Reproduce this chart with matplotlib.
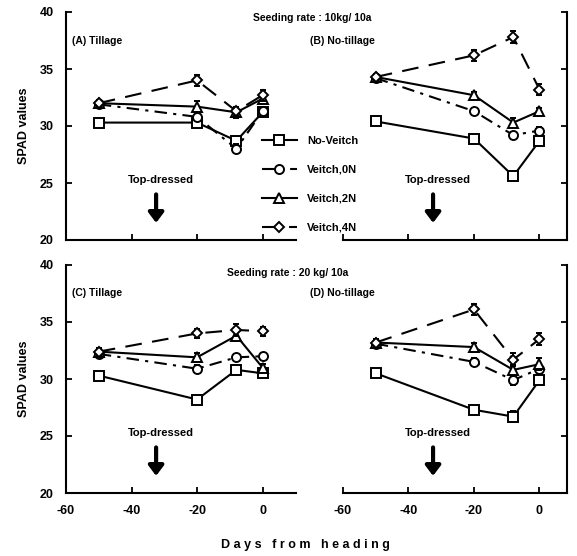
import matplotlib
matplotlib.use('Agg')
import matplotlib.pyplot as plt
from matplotlib.lines import Line2D

plt.rcParams['font.family'] = ['Liberation Sans', 'DejaVu Sans']
plt.rcParams['font.weight'] = 'bold'
plt.rcParams['axes.unicode_minus'] = False

days = [-50, -20, -8, 0]
series_names = ['No-Veitch', 'Veitch,0N', 'Veitch,2N', 'Veitch,4N']

# (A) Tillage, 10 kg/10a
a_noveitch = [30.3, 30.3, 28.7, 31.2]
a_veitch0n = [31.9, 30.8, 28.0, 31.3]
a_veitch2n = [32.0, 31.7, 31.2, 32.4]
a_veitch4n = [32.0, 34.0, 31.3, 32.7]
# (B) No-tillage, 10 kg/10a
b_noveitch = [30.4, 28.9, 25.6, 28.7]
b_veitch0n = [34.2, 31.3, 29.2, 29.6]
b_veitch2n = [34.3, 32.7, 30.3, 31.3]
b_veitch4n = [34.3, 36.2, 37.8, 33.2]
# (C) Tillage, 20 kg/10a
c_noveitch = [30.3, 28.2, 30.8, 30.5]
c_veitch0n = [32.2, 30.9, 31.9, 32.0]
c_veitch2n = [32.4, 31.9, 33.8, 31.0]
c_veitch4n = [32.4, 34.0, 34.3, 34.2]
# (D) No-tillage, 20 kg/10a
d_noveitch = [30.5, 27.3, 26.7, 29.9]
d_veitch0n = [33.1, 31.5, 29.9, 30.9]
d_veitch2n = [33.2, 32.8, 30.8, 31.3]
d_veitch4n = [33.2, 36.1, 31.7, 33.5]

# error bars (SE), per series in order of series_names
err_a = [[0.2, 0.2, 0.3, 0.2], [0.2, 0.2, 0.4, 0.3], [0.3, 0.5, 0.5, 0.4], [0.3, 0.5, 0.4, 0.5]]
err_b = [[0.2, 0.2, 0.3, 0.4], [0.2, 0.2, 0.3, 0.3], [0.3, 0.3, 0.4, 0.3], [0.3, 0.5, 0.5, 0.5]]
err_c = [[0.2, 0.3, 0.3, 0.2], [0.2, 0.3, 0.3, 0.3], [0.3, 0.4, 0.5, 0.3], [0.3, 0.4, 0.5, 0.4]]
err_d = [[0.2, 0.2, 0.5, 0.3], [0.2, 0.3, 0.4, 0.3], [0.3, 0.4, 0.4, 0.5], [0.3, 0.5, 0.6, 0.5]]

panel_labels = ['(A) Tillage', '(B) No-tillage', '(C) Tillage', '(D) No-tillage']
titles = ['Seeding rate : 10kg/ 10a', 'Seeding rate : 20 kg/ 10a']

markers = ['s', 'o', '^', 'D']
msizes = [6.5, 6.5, 6.5, 5.5]
styles = ['-', (0, (6, 3, 1.5, 3)), '-', (0, (8, 5))]

W, H = 577, 556
fig = plt.figure(figsize=(W / 100, H / 100), dpi=100)

def px_axes(x0, y_top, x1, y_bot):
    return fig.add_axes([x0 / W, 1 - y_bot / H, (x1 - x0) / W, (y_bot - y_top) / H])

axA = px_axes(66, 12, 296, 240)
axB = px_axes(343, 12, 567, 240)
axC = px_axes(66, 265, 296, 493)
axD = px_axes(343, 265, 567, 493)

panels = [
    (axA, [a_noveitch, a_veitch0n, a_veitch2n, a_veitch4n], err_a, True, False),
    (axB, [b_noveitch, b_veitch0n, b_veitch2n, b_veitch4n], err_b, False, False),
    (axC, [c_noveitch, c_veitch0n, c_veitch2n, c_veitch4n], err_c, True, True),
    (axD, [d_noveitch, d_veitch0n, d_veitch2n, d_veitch4n], err_d, False, True),
]

for i, (ax, data, errs, is_left, is_bottom) in enumerate(panels):
    for j, (vals, e) in enumerate(zip(data, errs)):
        ax.errorbar(days, vals, yerr=e, color='black', linestyle=styles[j], lw=1.5,
                    marker=markers[j], ms=msizes[j], mfc='white', mec='black', mew=1.4,
                    capsize=2.5, elinewidth=1.3, capthick=1.3, zorder=3 + j)
    ax.set_ylim(20, 40)
    ax.set_xlim(-60, 10.2 if is_left else 8.4)
    ax.set_yticks([20, 25, 30, 35, 40])
    ax.set_xticks([-60, -40, -20, 0])
    ax.spines['top'].set_visible(False)
    for s in ax.spines.values():
        s.set_linewidth(1.5)
    if is_left:
        ax.spines['right'].set_visible(False)
        ax.set_ylabel('SPAD values', fontsize=9, fontweight='bold', labelpad=7)
    else:
        ax.spines['left'].set_visible(False)
        ax.yaxis.tick_right()
        ax.tick_params(axis='y', labelright=False)
    ax.tick_params(direction='in', length=4, width=1.3, labelsize=9, pad=9)
    for t in ax.get_yticklabels() + ax.get_xticklabels():
        t.set_fontweight('bold')
    if not is_bottom:
        ax.tick_params(axis='x', labelbottom=False)
    # panel label
    ax.text(-58.2 if is_left else -70, 37.5, panel_labels[i], fontsize=7.5,
            fontweight='bold', va='center', ha='left', clip_on=False)
    # top-dressing annotation
    ax.text(-31, 25.3, 'Top-dressed', fontsize=8, fontweight='bold',
            ha='center', va='center')
    ax.annotate('', xy=(-32.5, 21.5), xytext=(-32.5, 24.0),
                arrowprops=dict(arrowstyle='-|>,head_width=0.45,head_length=0.6',
                                lw=3, color='black', shrinkA=0, shrinkB=0))

fig.text(312 / W, 1 - 18 / H, titles[0], fontsize=7.5, fontweight='bold', ha='center', va='center')
fig.text(288 / W, 1 - 273 / H, titles[1], fontsize=7.5, fontweight='bold', ha='center', va='center')

handles = [Line2D([], [], color='black', linestyle=styles[j], lw=1.5, marker=markers[j],
                  ms=msizes[j], mfc='white', mec='black', mew=1.4) for j in range(4)]
leg = fig.legend(handles, series_names, loc='upper left', bbox_to_anchor=(256 / W, 1 - 130 / H),
                 frameon=False, handlelength=3.2, labelspacing=1.72,
                 borderpad=0, handletextpad=0.9, prop={'weight': 'bold', 'size': 8})
leg.set_zorder(10)

fig.text(305 / W, 1 - 545 / H, 'D a y s   f r o m   h e a d i n g', fontsize=9,
         fontweight='bold', ha='center', va='center')

fig.savefig('out.png', dpi=100)
